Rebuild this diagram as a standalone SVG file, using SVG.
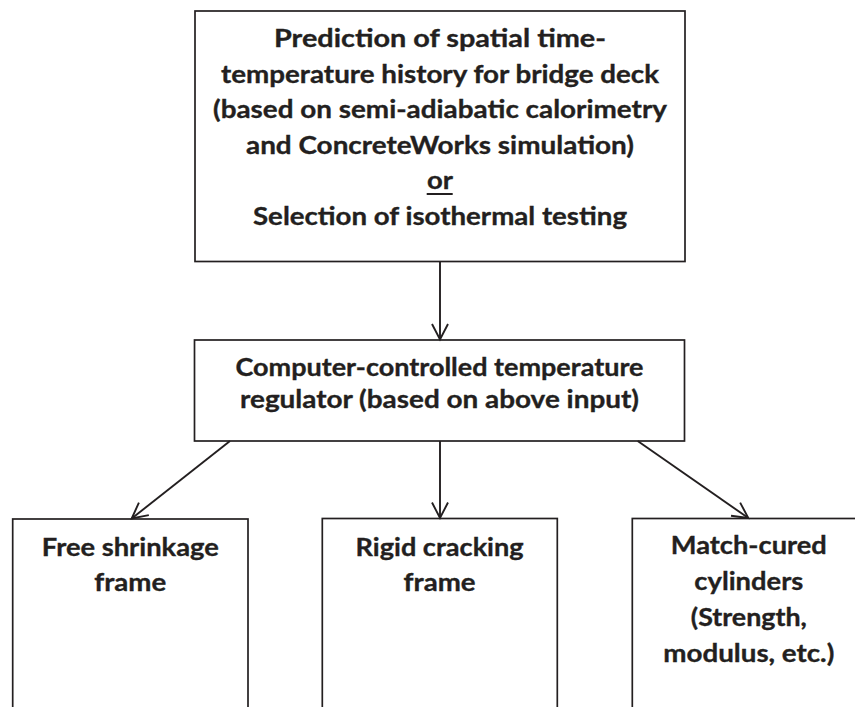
<svg xmlns="http://www.w3.org/2000/svg" width="855" height="707" viewBox="0 0 855 707">
  <style>
    .box { fill: #ffffff; stroke: #231f20; stroke-width: 1.7; }
    .lbl { font-family: "Lato", "Open Sans", "Liberation Sans", sans-serif; font-weight: 700; font-size: 25px; fill: #231f20; stroke: #231f20; stroke-width: 0.35; text-anchor: middle; }
    .conn { fill: none; stroke: #231f20; stroke-width: 1.9; }
  </style>
  <defs>
    <marker id="arrow" markerUnits="userSpaceOnUse" markerWidth="20" markerHeight="20" viewBox="-17 -10 20 20" refX="0" refY="0" orient="auto">
      <path d="M-15.5,-8 L0,0 L-15.5,8" fill="none" stroke="#231f20" stroke-width="1.9"/>
    </marker>
  </defs>
  <rect x="0" y="0" width="855" height="707" fill="#ffffff"/>

  <g id="node-prediction">
    <rect class="box" x="195" y="11" width="490" height="250.5"/>
    <text class="lbl" x="440" y="47" textLength="332" lengthAdjust="spacingAndGlyphs">Prediction of spatial time-</text>
    <text class="lbl" x="440" y="82.5" textLength="438" lengthAdjust="spacingAndGlyphs">temperature history for bridge deck</text>
    <text class="lbl" x="440" y="118" textLength="454" lengthAdjust="spacingAndGlyphs">(based on semi-adiabatic calorimetry</text>
    <text class="lbl" x="440" y="153.5" textLength="388" lengthAdjust="spacingAndGlyphs">and ConcreteWorks simulation)</text>
    <text class="lbl" x="440" y="189" textLength="26" lengthAdjust="spacingAndGlyphs">or</text>
    <line x1="426.7" y1="194" x2="452.7" y2="194" stroke="#231f20" stroke-width="2"/>
    <text class="lbl" x="440" y="225" textLength="374" lengthAdjust="spacingAndGlyphs">Selection of isothermal testing</text>
  </g>

  <g id="node-regulator">
    <rect class="box" x="194.5" y="340" width="490" height="101"/>
    <text class="lbl" x="439.5" y="376" textLength="408" lengthAdjust="spacingAndGlyphs">Computer-controlled temperature</text>
    <text class="lbl" x="439.5" y="408" textLength="399" lengthAdjust="spacingAndGlyphs">regulator (based on above input)</text>
  </g>

  <g id="node-free-shrinkage">
    <rect class="box" x="12.7" y="519" width="235.3" height="210"/>
    <text class="lbl" x="130.3" y="555.5" textLength="177" lengthAdjust="spacingAndGlyphs">Free shrinkage</text>
    <text class="lbl" x="130.3" y="591" textLength="72" lengthAdjust="spacingAndGlyphs">frame</text>
  </g>

  <g id="node-rigid-cracking">
    <rect class="box" x="322.3" y="518.5" width="235" height="210"/>
    <text class="lbl" x="439.6" y="555.5" textLength="168" lengthAdjust="spacingAndGlyphs">Rigid cracking</text>
    <text class="lbl" x="439.6" y="591" textLength="72" lengthAdjust="spacingAndGlyphs">frame</text>
  </g>

  <g id="node-match-cured">
    <rect class="box" x="632.3" y="518.5" width="233" height="210"/>
    <text class="lbl" x="748.8" y="554" textLength="156" lengthAdjust="spacingAndGlyphs">Match-cured</text>
    <text class="lbl" x="748.8" y="590" textLength="109" lengthAdjust="spacingAndGlyphs">cylinders</text>
    <text class="lbl" x="748.8" y="626" textLength="116" lengthAdjust="spacingAndGlyphs">(Strength,</text>
    <text class="lbl" x="748.8" y="662" textLength="171" lengthAdjust="spacingAndGlyphs">modulus, etc.)</text>
  </g>

  <g id="connectors">
    <line class="conn" x1="440" y1="261.5" x2="440" y2="339.5" marker-end="url(#arrow)"/>
    <line class="conn" x1="230" y1="441" x2="131.7" y2="518.5" marker-end="url(#arrow)"/>
    <line class="conn" x1="440" y1="441" x2="440" y2="518" marker-end="url(#arrow)"/>
    <line class="conn" x1="637.7" y1="441" x2="748.3" y2="518" marker-end="url(#arrow)"/>
  </g>
</svg>
